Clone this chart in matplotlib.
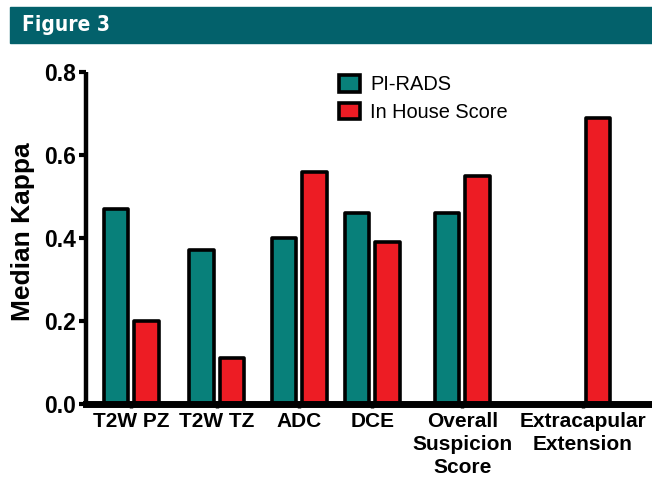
import numpy as np
import matplotlib.pyplot as plt
from matplotlib.patches import Rectangle

categories = ["T2W PZ", "T2W TZ", "ADC", "DCE",
              "Overall\nSuspicion\nScore", "Extracapular\nExtension"]
pirads = [0.47, 0.37, 0.40, 0.46, 0.46, 0.0]
in_house = [0.20, 0.11, 0.56, 0.39, 0.55, 0.69]
yticks = [0.0, 0.2, 0.4, 0.6, 0.8]

# uneven group spacing as in the original figure
group_x = np.array([0, 2.8, 5.5, 7.9, 10.85, 14.8])

teal = "#08807a"
red = "#ed1c24"
header = "#03616b"

fig = plt.figure(figsize=(6.52, 4.83), dpi=100)

###############################################################################
# Header bar
fig.patches.append(Rectangle((10 / 652, 1 - 43 / 483), 1, 36 / 483,
                             transform=fig.transFigure, color=header,
                             zorder=0))
fig.text(22 / 652, 1 - 25 / 483, "Figure 3", color="white",
         fontsize=15, fontweight="bold", fontstretch="condensed",
         va="center", ha="left", family="DejaVu Sans")

###############################################################################
# Bars
ax = fig.add_axes([86 / 652, 1 - 404 / 483, 566 / 652, 332 / 483])
bar_kw = dict(width=0.8, edgecolor="black", linewidth=2.6,
              joinstyle="round")
b1 = ax.bar(group_x - 0.5, pirads, color=teal, label="PI-RADS", **bar_kw)
b2 = ax.bar(group_x + 0.5, in_house, color=red, label="In House Score",
            **bar_kw)
# no PI-RADS bar for extracapsular extension
b1[-1].set_visible(False)

ax.set_xlim(-1.49, 17.07)
ax.set_ylim(0, 0.8)
ax.set_yticks(yticks)
ax.set_yticklabels(["%.1f" % t for t in yticks])
ax.set_xticks(group_x)
ax.set_xticklabels(categories)

for s in ["top", "right"]:
    ax.spines[s].set_visible(False)
ax.spines["left"].set_linewidth(3.2)
ax.spines["bottom"].set_linewidth(5)
ax.spines["left"].set_capstyle("butt")

ax.tick_params(axis="y", direction="out", length=5, width=3, pad=2,
               labelsize=16.5)
ax.tick_params(axis="x", direction="out", length=3, width=2.5, pad=3,
               labelsize=15)
for lab in ax.get_xticklabels() + ax.get_yticklabels():
    lab.set_fontweight("bold")
    lab.set_family("Liberation Sans")
for lab in ax.get_xticklabels():
    lab.set_linespacing(1.25)

ax.set_ylabel("Median Kappa", fontsize=19, fontweight="bold",
              family="Liberation Sans", va="center")
ax.yaxis.set_label_coords(-0.111, 0.518)

leg = ax.legend(loc="upper left", bbox_to_anchor=(339 / 652, 1 - 75 / 483),
                bbox_transform=fig.transFigure, frameon=False,
                borderpad=0, borderaxespad=0, handlelength=1.05,
                handleheight=0.9, handletextpad=0.5, labelspacing=0.42,
                prop={"family": "Liberation Sans", "size": 14.4})

fig.savefig("out.png", dpi=100)
